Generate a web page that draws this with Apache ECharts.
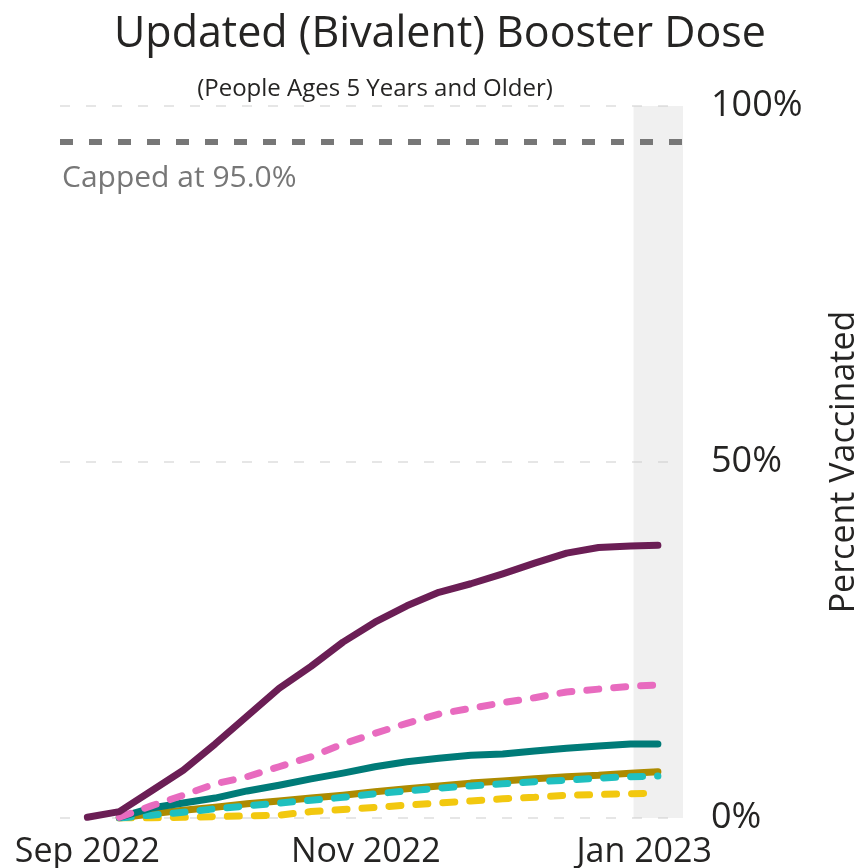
<!DOCTYPE html>
<html>
<head>
<meta charset="utf-8">
<script src="https://cdn.jsdelivr.net/npm/echarts@6/dist/echarts.min.js"></script>
<style>
  html, body { margin: 0; padding: 0; background: #fff; }
  #chart { width: 862px; height: 868px; }
</style>
</head>
<body>
<div id="chart"></div>
<script>
// weekly dates, last point is the latest report
var dates = ["2022-09-01", "2022-09-08", "2022-09-15", "2022-09-22", "2022-09-29", "2022-10-06",
  "2022-10-13", "2022-10-20", "2022-10-27", "2022-11-03", "2022-11-10", "2022-11-17", "2022-11-24",
  "2022-12-01", "2022-12-08", "2022-12-15", "2022-12-22", "2022-12-29", "2023-01-04"];

var purple = [0.1, 0.9, 3.8, 6.7, 10.4, 14.3, 18.2, 21.3, 24.7, 27.5, 29.8, 31.7, 32.9, 34.3, 35.8, 37.2, 38.0, 38.2, 38.3];
var pink = [null, 0.1, 1.7, 3.2, 4.8, 5.8, 7.2, 8.6, 10.4, 11.9, 13.3, 14.6, 15.4, 16.2, 16.9, 17.7, 18.1, 18.5, 18.7];
var teal = [null, 0.1, 1.4, 2.1, 2.8, 3.8, 4.6, 5.5, 6.3, 7.2, 7.9, 8.4, 8.8, 9.0, 9.4, 9.8, 10.1, 10.4, 10.4];
var gold = [null, 0, 0.6, 1.1, 1.5, 2.0, 2.4, 2.8, 3.2, 3.7, 4.1, 4.5, 4.9, 5.2, 5.5, 5.8, 6.0, 6.3, 6.5];
var cyan = [null, 0, 0.4, 0.8, 1.3, 1.7, 2.1, 2.5, 2.9, 3.4, 3.8, 4.2, 4.5, 4.8, 5.1, 5.3, 5.6, 5.8, 5.9];
var yellow = [null, 0, 0, 0.1, 0.2, 0.3, 0.4, 0.9, 1.2, 1.5, 1.8, 2.1, 2.4, 2.7, 2.9, 3.2, 3.3, 3.4, 3.5];

var yTicks = [0, 50, 100];
var xLabelMonths = [8, 10, 0]; // Sep, Nov, Jan
var capValue = 95;
var bandStart = "2022-12-29 16:00";
var axisMin = "2022-08-26";
var axisMax = "2023-01-09 12:00";

function pairs(values) {
    return dates.map(function (d, i) { return [d, values[i]]; });
}

function lineSeries(name, values, color, dashed, z) {
    return {
        name: name,
        type: "line",
        data: pairs(values),
        showSymbol: false,
        z: z,
        lineStyle: {
            color: color,
            width: 7,
            type: dashed ? [12, 15] : "solid",
            cap: "round",
            join: "round"
        }
    };
}

var monthNames = ["Jan", "Feb", "Mar", "Apr", "May", "Jun", "Jul", "Aug", "Sep", "Oct", "Nov", "Dec"];
var font = "'Open Sans', 'Noto Sans', sans-serif";
var chart = echarts.init(document.getElementById("chart"));

chart.setOption({
    animation: false,
    title: [
        {
            text: "Updated (Bivalent) Booster Dose",
            left: 435, top: 8, textAlign: "center",
            textStyle: { fontFamily: font, fontSize: 43, fontWeight: "normal", color: "#252423" }
        },
        {
            text: "(People Ages 5 Years and Older)",
            left: 370, top: 72, textAlign: "center",
            textStyle: { fontFamily: font, fontSize: 24, fontWeight: "normal", color: "#252423" }
        }
    ],
    graphic: [{
        type: "text",
        left: 62, top: 163,
        style: { text: "Capped at " + capValue.toFixed(1) + "%", fontFamily: font, fontSize: 30, fill: "#777777" }
    }],
    grid: { left: 60, right: 179, top: 106, bottom: 50, outerBoundsMode: "none" },
    xAxis: {
        type: "time",
        min: axisMin,
        max: axisMax,
        axisLine: { show: false },
        axisTick: { show: false },
        splitLine: { show: false },
        axisLabel: {
            showMinLabel: false,
            showMaxLabel: false,
            hideOverlap: false,
            formatter: function (v) {
                var d = new Date(v);
                if (d.getDate() !== 1 || xLabelMonths.indexOf(d.getMonth()) < 0) return "";
                return monthNames[d.getMonth()] + " " + d.getFullYear();
            },
            fontFamily: font, fontSize: 34, color: "#252423", margin: 17
        }
    },
    yAxis: {
        type: "value",
        position: "right",
        min: 0, max: 100, interval: 50,
        name: "Percent Vaccinated",
        nameLocation: "middle",
        nameRotate: 90,
        nameGap: 144,
        nameTextStyle: { fontFamily: font, fontSize: 34, color: "#252423" },
        axisLine: { show: false },
        axisTick: { show: false },
        axisLabel: {
            fontFamily: font, fontSize: 36, color: "#252423", margin: 28,
            formatter: function (v) { return yTicks.indexOf(v) >= 0 ? v + "%" : ""; }
        },
        splitLine: { lineStyle: { color: "#e6e6e6", width: 2, type: [10, 16] } }
    },
    series: [
        {
            name: "cap",
            type: "line",
            data: [],
            z: 1,
            markLine: {
                silent: true,
                symbol: "none",
                label: { show: false },
                lineStyle: { color: "#777777", width: 6, type: [13, 16] },
                data: [{ yAxis: capValue }]
            }
        },
        lineSeries("yellow", yellow, "#f2c80f", true, 2),
        lineSeries("gold", gold, "#ad8b00", false, 3),
        lineSeries("cyan", cyan, "#1fc0bf", true, 4),
        lineSeries("teal", teal, "#007b78", false, 5),
        lineSeries("pink", pink, "#e86bbf", true, 6),
        lineSeries("purple", purple, "#6b1e55", false, 7),
        {
            name: "band",
            type: "line",
            data: [],
            z: 10,
            markArea: {
                silent: true,
                itemStyle: { color: "rgba(203,203,203,0.29)" },
                data: [[{ xAxis: bandStart, yAxis: 0 }, { xAxis: axisMax, yAxis: 100 }]]
            }
        }
    ]
});
</script>
</body>
</html>
